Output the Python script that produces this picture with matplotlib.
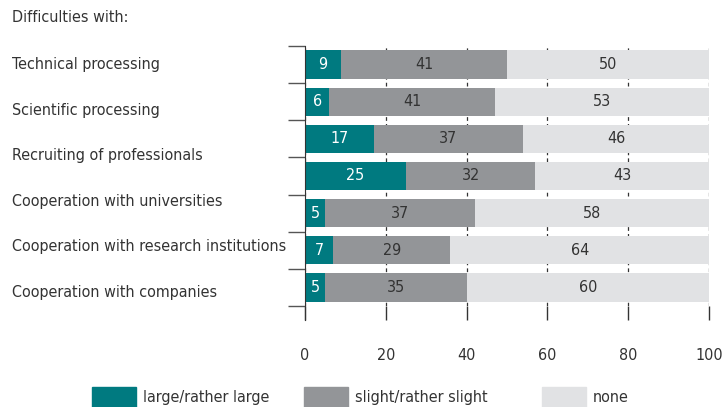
import matplotlib
matplotlib.use('Agg')
import matplotlib.pyplot as plt
import matplotlib.patches as mpatches
import numpy as np

plt.rcParams['font.family'] = ['DejaVu Sans']
plt.rcParams['font.stretch'] = 'condensed'

# data (percent), bars top to bottom
large = [9, 6, 17, 25, 5, 7, 5]
slight = [41, 41, 37, 32, 37, 29, 35]
none = [50, 53, 46, 43, 58, 64, 60]
row_labels = ['Technical processing', 'Scientific processing',
              'Recruiting of professionals', 'Cooperation with universities',
              'Cooperation with research institutions',
              'Cooperation with companies']
series_names = ['large/rather large', 'slight/rather slight', 'none']
colors = ['#007a80', '#939598', '#e1e2e4']
text_colors = ['white', '#333333', '#333333']
xticks = [0, 20, 40, 60, 80, 100]

fs = 11.5
fig = plt.figure(figsize=(7.25, 4.07), dpi=100)
ax = fig.add_axes([305 / 725, 1 - 306 / 407, 404 / 725, 260 / 407])

y = np.arange(len(large))
left = np.zeros(len(large))
for vals, c, tc in zip([large, slight, none], colors, text_colors):
    vals = np.array(vals)
    ax.barh(y, vals, left=left, height=0.76, color=c, zorder=2)
    for yi, l, v in zip(y, left, vals):
        ax.text(l + v / 2, yi, str(v), ha='center', va='center',
                color=tc, fontsize=fs, zorder=3)
    left = left + vals

ax.set_xlim(0, 100)
ax.set_ylim(len(large) - 0.5, -0.5)
ax.set_xticks(xticks)
ax.set_xticklabels([str(t) for t in xticks], fontsize=fs, color='#333333')
ax.set_yticks(np.arange(-0.5, len(large), 1))
ax.set_yticklabels([])
ax.tick_params(axis='x', direction='out', length=10, width=1,
               color='#333333', pad=20)
ax.tick_params(axis='y', direction='out', length=12, width=1,
               color='#555555')
ax.grid(axis='x', color='#333333', linestyle=(0, (3, 2.5)), linewidth=0.9,
        zorder=0)
ax.set_axisbelow(True)
for s in ['top', 'right', 'bottom']:
    ax.spines[s].set_visible(False)
ax.spines['left'].set_color('#333333')
ax.spines['left'].set_bounds(-0.5, len(large) - 0.5 + 0.38)

# row labels on the left
fig.text(12 / 725, 1 - 17 / 407, 'Difficulties with:', fontsize=fs,
         color='#333333', va='center')
label_y = np.linspace(1 - 65 / 407, 1 - 292 / 407, len(row_labels))
for ly, lab in zip(label_y, row_labels):
    fig.text(12 / 725, ly, lab, fontsize=fs, color='#333333', va='center')

# legend, one entry per block
legend_x = [92 / 725, 304 / 725, 542 / 725]
for name, c, lx in zip(series_names, colors, legend_x):
    h = mpatches.Patch(color=c, label=name)
    fig.legend(handles=[h], loc='center left', bbox_to_anchor=(lx, 1 - 397 / 407),
               frameon=False, fontsize=fs, handlelength=2.75, handleheight=1.5,
               handletextpad=0.45, borderpad=0, borderaxespad=0,
               labelcolor='#333333')

fig.savefig('out.png', dpi=100)
